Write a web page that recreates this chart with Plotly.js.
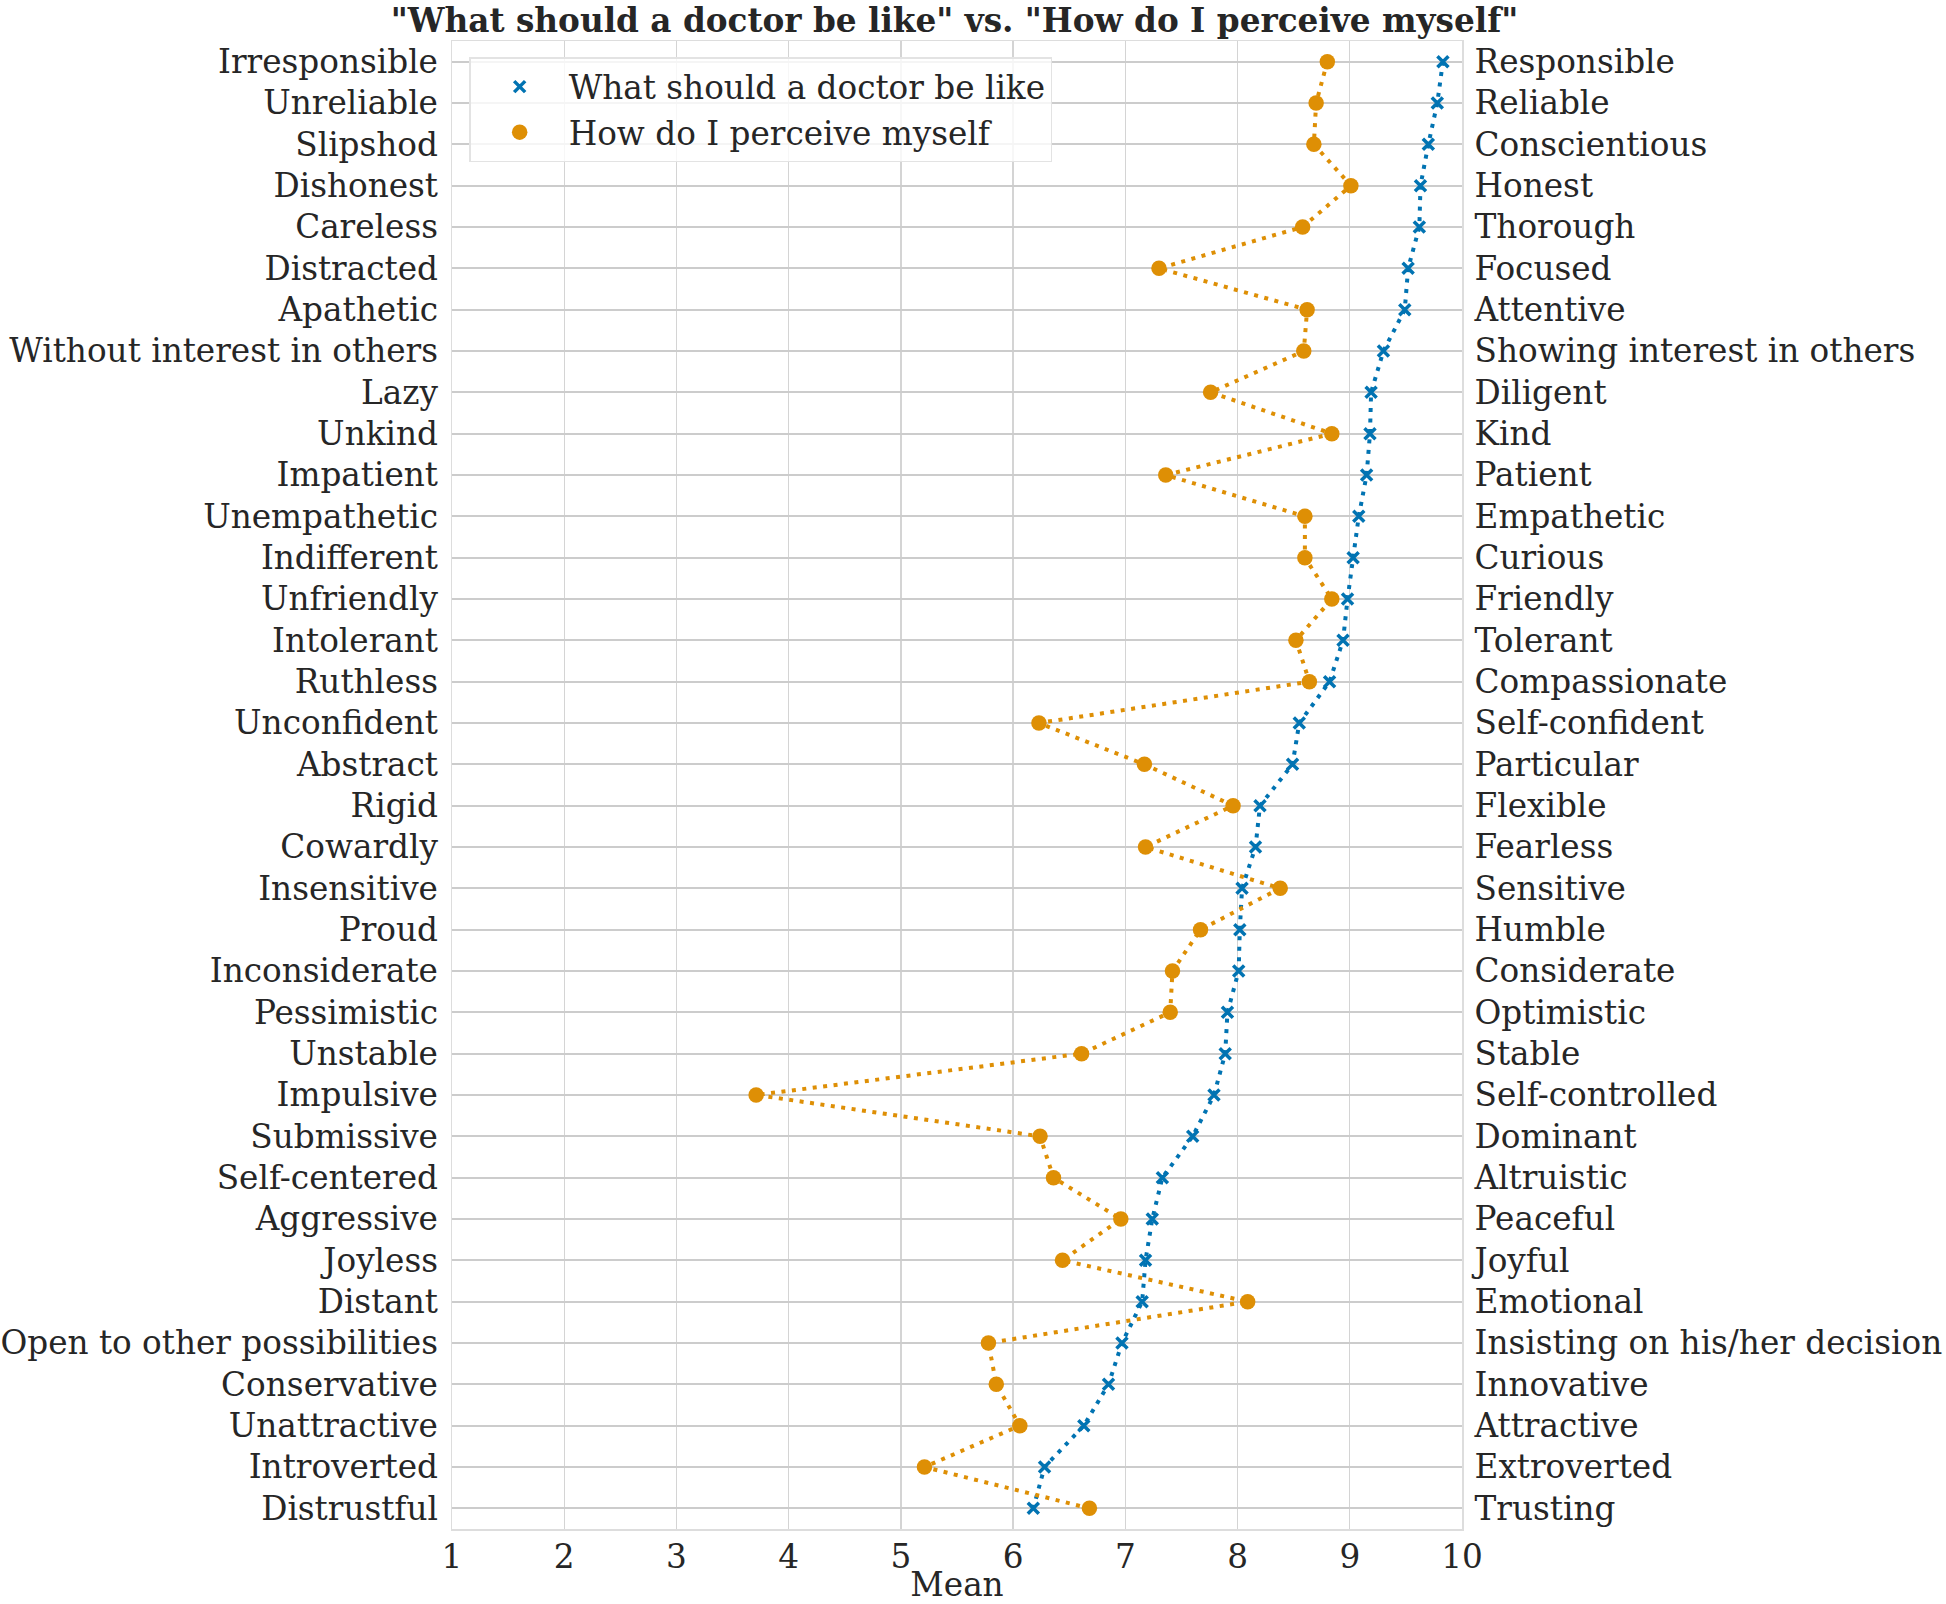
<!DOCTYPE html>
<html>
<head>
<meta charset="utf-8">
<script src="https://cdn.plot.ly/plotly-3.0.1.min.js"></script>
<style>html,body{margin:0;padding:0;background:#fff;}#chart{width:1946px;height:1604px;}</style>
</head>
<body>
<div id="chart"></div>
<script>
const negLabels = ["Irresponsible","Unreliable","Slipshod","Dishonest","Careless","Distracted","Apathetic","Without interest in others","Lazy","Unkind","Impatient","Unempathetic","Indifferent","Unfriendly","Intolerant","Ruthless","Unconfident","Abstract","Rigid","Cowardly","Insensitive","Proud","Inconsiderate","Pessimistic","Unstable","Impulsive","Submissive","Self-centered","Aggressive","Joyless","Distant","Open to other possibilities","Conservative","Unattractive","Introverted","Distrustful"];
const posLabels = ["Responsible","Reliable","Conscientious","Honest","Thorough","Focused","Attentive","Showing interest in others","Diligent","Kind","Patient","Empathetic","Curious","Friendly","Tolerant","Compassionate","Self-confident","Particular","Flexible","Fearless","Sensitive","Humble","Considerate","Optimistic","Stable","Self-controlled","Dominant","Altruistic","Peaceful","Joyful","Emotional","Insisting on his/her decision","Innovative","Attractive","Extroverted","Trusting"];
const doctorValues = [9.83,9.78,9.70,9.63,9.62,9.52,9.49,9.30,9.19,9.18,9.15,9.08,9.03,8.98,8.94,8.82,8.55,8.49,8.20,8.16,8.04,8.02,8.01,7.91,7.89,7.79,7.60,7.33,7.24,7.18,7.15,6.97,6.85,6.63,6.28,6.18];
const selfValues = [8.80,8.70,8.68,9.01,8.58,7.30,8.62,8.59,7.76,8.84,7.36,8.60,8.60,8.84,8.52,8.64,6.23,7.17,7.96,7.18,8.38,7.67,7.42,7.40,6.61,3.71,6.24,6.36,6.96,6.44,8.09,5.78,5.85,6.06,5.21,6.68];
const xTicks = [1,2,3,4,5,6,7,8,9,10];
const seriesNames = ["What should a doctor be like","How do I perceive myself"];

const BLUE = "#0173b2", ORANGE = "#de8f05";
const FONT = "DejaVu Serif";
const TXT = "#262626";
const FS = 32.7;

const traces = [
  {x: doctorValues, y: negLabels, type: "scatter", mode: "lines", line: {color: BLUE, width: 4, dash: "4px,6.5px"}, showlegend: false, hoverinfo: "skip"},
  {x: selfValues, y: negLabels, type: "scatter", mode: "lines", line: {color: ORANGE, width: 4, dash: "4px,6.5px"}, showlegend: false, hoverinfo: "skip"},
  {x: doctorValues, y: negLabels, type: "scatter", mode: "markers", name: seriesNames[0],
   marker: {symbol: "x-thin", size: 11, color: BLUE, line: {color: BLUE, width: 3.5}}},
  {x: selfValues, y: negLabels, type: "scatter", mode: "markers", name: seriesNames[1],
   marker: {symbol: "circle", size: 15.5, color: ORANGE}},
  {x: doctorValues, y: posLabels, yaxis: "y2", type: "scatter", mode: "markers", marker: {opacity: 0}, showlegend: false, hoverinfo: "skip"}
];

const layout = {
  width: 1946, height: 1604,
  paper_bgcolor: "#ffffff", plot_bgcolor: "#ffffff",
  margin: {l: 452, r: 484, t: 41, b: 75, pad: 0},
  font: {family: FONT, size: FS, color: TXT},
  title: {text: "<b>\"What should a doctor be like\" vs. \"How do I perceive myself\"</b>", font: {family: FONT, size: FS, color: TXT}, x: 0.4905, xanchor: "center", yref: "container", y: 0.987, yanchor: "middle"},
  xaxis: {range: [1, 10], tickmode: "array", tickvals: xTicks, ticktext: xTicks.map(String),
    showgrid: true, gridcolor: "#d4d4d4", gridwidth: 1.3, zeroline: false,
    showline: true, mirror: true, linecolor: "#dddddd", linewidth: 1.5,
    ticks: "", ticklabelstandoff: -2, tickfont: {family: FONT, size: FS, color: TXT},
    title: {text: "Mean", font: {family: FONT, size: FS, color: TXT}, standoff: 9}},
  yaxis: {type: "category", categoryarray: negLabels, categoryorder: "array", range: [35.5, -0.5],
    showgrid: true, gridcolor: "#cccccc", gridwidth: 2, zeroline: false,
    showline: true, mirror: true, linecolor: "#dddddd", linewidth: 1.5,
    ticks: "outside", ticklen: 6, tickcolor: "rgba(0,0,0,0)", tickfont: {family: FONT, size: FS, color: TXT}},
  yaxis2: {type: "category", categoryarray: posLabels, categoryorder: "array", range: [35.5, -0.5],
    overlaying: "y", side: "right", showgrid: false, zeroline: false, showline: false,
    ticks: "outside", ticklen: 5, tickcolor: "rgba(0,0,0,0)", tickfont: {family: FONT, size: FS, color: TXT}},
  legend: {x: 0.017, y: 0.989, xanchor: "left", yanchor: "top", bgcolor: "rgba(255,255,255,0.8)",
    bordercolor: "#e3e3e3", borderwidth: 1.5, font: {family: FONT, size: FS, color: TXT}, itemwidth: 88, tracegroupgap: 0},
  showlegend: true
};

Plotly.newPlot("chart", traces, layout, {displayModeBar: false, staticPlot: true});
</script>
</body>
</html>
